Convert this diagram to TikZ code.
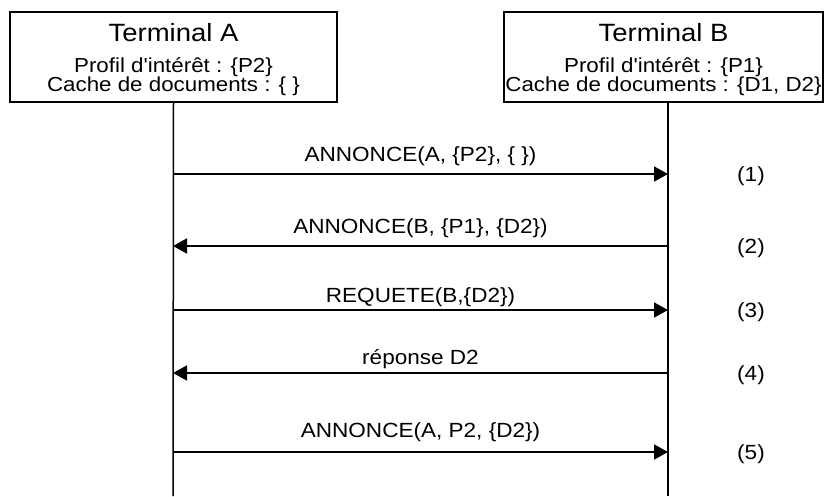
\documentclass[tikz,border=0pt]{standalone}
\usepackage{fontspec}
\setmainfont{Liberation Sans}[FakeStretch=1.1,Ligatures=TeXOff]
\usetikzlibrary{arrows.meta}

\begin{document}
\begin{tikzpicture}
		[x=1pt,y=1pt,
		 terminal/.style={draw,line width=1.5pt,minimum height=90pt,inner sep=0pt},
		 title/.style={anchor=base,inner sep=0pt,font=\fontsize{25}{28}\selectfont},
		 info/.style={anchor=base,inner sep=0pt,text height=14pt,text depth=4pt,font=\fontsize{20.3}{22}\selectfont},
		 lifeline/.style={line width=1.5pt},
		 msg/.style={-{Triangle[length=14pt,width=15pt]},line width=1.8pt},
		 msglabel/.style={anchor=base,inner sep=0pt,font=\fontsize{20.5}{22}\selectfont},
		 stepnum/.style={anchor=base,inner sep=0pt,font=\fontsize{20.5}{22}\selectfont}]
		\useasboundingbox (0,0) rectangle (827,-496);

		% draw the two terminals
		\node [terminal,minimum width=327pt] (termA) at (173.5,-57) {};
		\node [title] (titleA) at (173.5,-41) {Terminal A};
		\node [info] (profA) at (173.5,-72) {Profil d'intérêt : \{P2\}};
		\node [info] (cacheA) at (173.5,-91) {Cache de documents : \{ \}};

		\node [terminal,minimum width=319pt] (termB) at (663.5,-57) {};
		\node [title] (titleB) at (663.5,-41) {Terminal B};
		\node [info] (profB) at (663.5,-72) {Profil d'intérêt : \{P1\}};
		\node [info] (cacheB) at (663.5,-91) {Cache de documents : \{D1, D2\}};

		% draw the life lines
		\coordinate (endA) at (173,-496);
		\coordinate (endB) at (668,-496);
		\draw [lifeline] (termA.south) -- (endA);
		\draw [lifeline] (termB.south -| endB) -- (endB);

		% points on the life lines
		\foreach \i/\y in {1/174,2/246,3/310,4/373,5/452}
		{
			\coordinate (a\i) at (173,-\y);
			\coordinate (b\i) at (668,-\y);
		}

		% draw the messages
		\draw [msg] (a1) -- (b1);
		\node [msglabel] (m1) at (420.5,-161) {ANNONCE(A, \{P2\}, \{ \})};
		\draw [msg] (b2) -- (a2);
		\node [msglabel] (m2) at (420.5,-233) {ANNONCE(B, \{P1\}, \{D2\})};
		\draw [msg] (a3) -- (b3);
		\node [msglabel] (m3) at (420.5,-302) {REQUETE(B,\{D2\})};
		\draw [msg] (b4) -- (a4);
		\node [msglabel] (m4) at (420.5,-364) {réponse D2};
		\draw [msg] (a5) -- (b5);
		\node [msglabel] (m5) at (420.5,-437) {ANNONCE(A, P2, \{D2\})};

		% step numbers
		\foreach \i/\y in {1/174,2/246,3/310,4/373,5/452}
			\node [stepnum] (n\i) at (751,-\y-7) {(\i)};
	\end{tikzpicture}
\end{document}
